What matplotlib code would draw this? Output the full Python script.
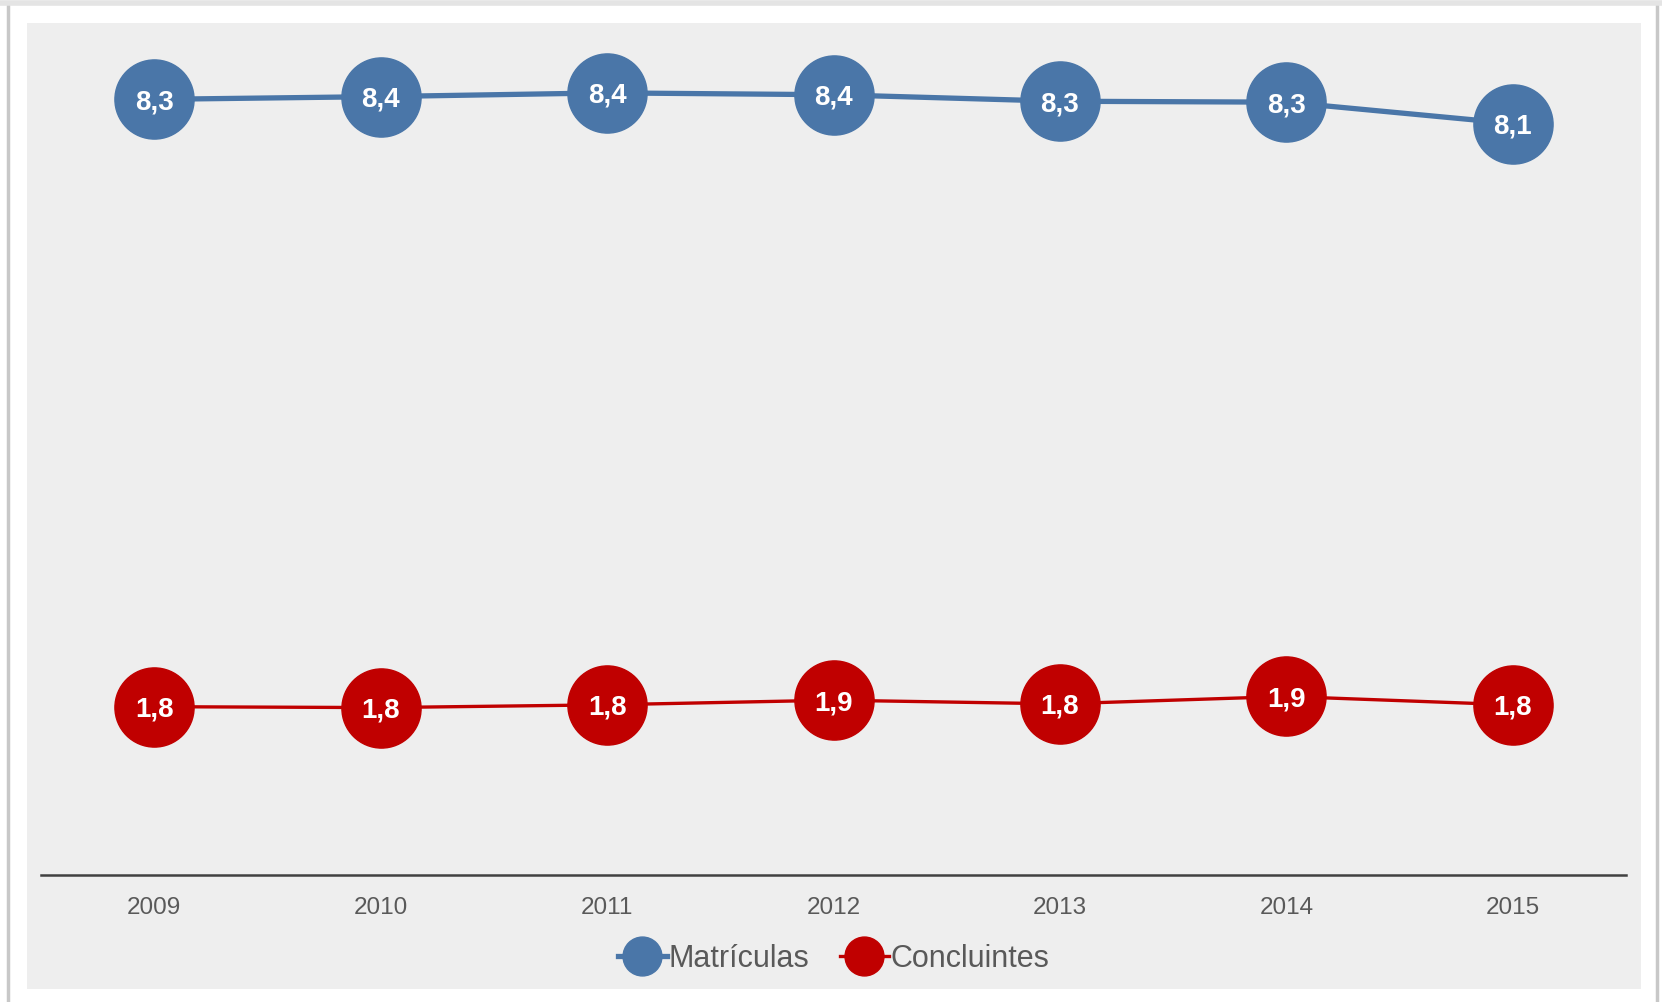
import matplotlib.pyplot as plt
from matplotlib.patches import Rectangle
from matplotlib.lines import Line2D

# Data
anos = ['2009', '2010', '2011', '2012', '2013', '2014', '2015']
matriculas = [8.34, 8.37, 8.41, 8.39, 8.32, 8.31, 8.08]
concluintes = [1.81, 1.80, 1.83, 1.88, 1.84, 1.92, 1.83]

azul = '#4A76A8'
vermelho = '#C00000'
cinza_txt = '#595959'

plt.rcParams['font.family'] = ['Liberation Sans', 'DejaVu Sans']

W, H = 1662, 1002
fig = plt.figure(figsize=(W / 100, H / 100), dpi=100)
fig.patch.set_facecolor('white')

# gray panel behind the chart + thin frame lines
fig.add_artist(Rectangle((27 / W, 1 - 989 / H), (1641 - 27) / W, (989 - 23) / H,
                         transform=fig.transFigure, facecolor='#EEEEEE',
                         edgecolor='none', zorder=-5))
fig.add_artist(Line2D([8 / W, 8 / W], [0, 1 - 5 / H], color='#C8C8C8', lw=2.5, zorder=-5))
fig.add_artist(Line2D([1657 / W, 1657 / W], [0, 1 - 5 / H], color='#C8C8C8', lw=2.5, zorder=-5))
fig.add_artist(Line2D([0, 1], [1 - 3 / H, 1 - 3 / H], color='#E4E4E4', lw=4, zorder=-5))

# axes: x from 41 to 1626 px, y zero at 875 px, 93 px per unit
ymax = 9.0
ax_bottom = 1 - 875 / H
ax_height = ymax * 93 / H
ax = fig.add_axes([41 / W, ax_bottom, (1626 - 41) / W, ax_height])
ax.patch.set_visible(False)

x = range(len(anos))
ax.plot(x, matriculas, color=azul, lw=3.8, marker='o', markersize=57,
        markerfacecolor=azul, markeredgecolor=azul, label='Matrículas', zorder=3)
ax.plot(x, concluintes, color=vermelho, lw=2.4, marker='o', markersize=57,
        markerfacecolor=vermelho, markeredgecolor=vermelho, label='Concluintes', zorder=3)

for xi, v in zip(x, matriculas):
    ax.text(xi, v, f'{v:.1f}'.replace('.', ','), ha='center', va='center_baseline',
            color='white', fontsize=20, fontweight='bold', zorder=4)
for xi, v in zip(x, concluintes):
    ax.text(xi, v, f'{v:.1f}'.replace('.', ','), ha='center', va='center_baseline',
            color='white', fontsize=20, fontweight='bold', zorder=4)

ax.set_xlim(-0.5, len(anos) - 0.5)
ax.set_ylim(0, ymax)
ax.set_xticks(list(x))
ax.set_xticklabels(anos, fontsize=17.5, color=cinza_txt)
ax.tick_params(axis='x', length=0, pad=16)
ax.set_yticks([])
for s in ['top', 'right', 'left']:
    ax.spines[s].set_visible(False)
ax.spines['bottom'].set_color('#404040')
ax.spines['bottom'].set_linewidth(1.8)

h1 = Line2D([], [], color=azul, lw=3.8, marker='o', markersize=28)
h2 = Line2D([], [], color=vermelho, lw=2.4, marker='o', markersize=28)
fig.legend([h1, h2], ['Matrículas', 'Concluintes'], loc='center',
           bbox_to_anchor=(833.5 / W, 1 - 959 / H), ncol=2, frameon=False,
           fontsize=22, labelcolor=cinza_txt, handlelength=1.6,
           handletextpad=0.05, columnspacing=1.0)

fig.savefig('out.png', dpi=100, facecolor=fig.get_facecolor())
